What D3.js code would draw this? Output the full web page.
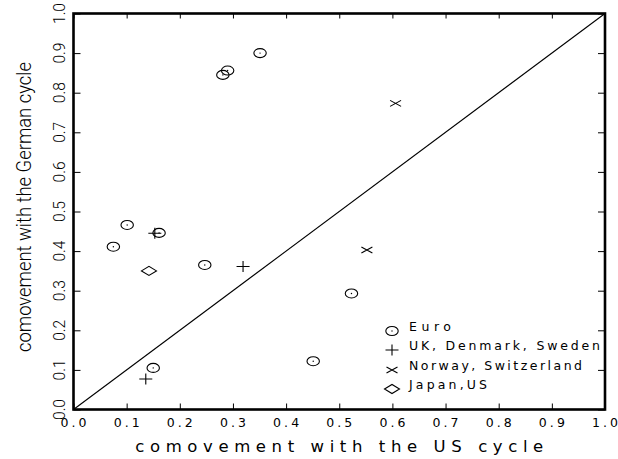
<!DOCTYPE html>
<html>
<head>
<meta charset="utf-8">
<script src="https://cdn.jsdelivr.net/npm/d3@7"></script>
<style>
  body { margin: 0; background: #fff; }
  svg { display: block; }
  .tick line { stroke: #000; stroke-width: 1; }
</style>
</head>
<body>
<script>
// comovement with US cycle (x) vs comovement with German cycle (y)
var groupNames = ["Euro", "UK, Denmark, Sweden", "Norway, Switzerland", "Japan,US"];

var euroX = [0.351, 0.290, 0.281, 0.101, 0.075, 0.161, 0.247, 0.523, 0.150, 0.451];
var euroY = [0.900, 0.856, 0.845, 0.466, 0.411, 0.446, 0.365, 0.293, 0.105, 0.122];

var ukX = [0.153, 0.319, 0.136];
var ukY = [0.445, 0.361, 0.077];

var norX = [0.606, 0.552];
var norY = [0.773, 0.403];

var japX = [0.142];
var japY = [0.350];

var tickVals = [0, 0.1, 0.2, 0.3, 0.4, 0.5, 0.6, 0.7, 0.8, 0.9, 1.0];
var tickLabels = ["0.0", "0.1", "0.2", "0.3", "0.4", "0.5", "0.6", "0.7", "0.8", "0.9", "1.0"];

var W = 618, H = 459;
var margin = {left: 73.5, top: 13.5, right: 13, bottom: 49.5};
var width = W - margin.left - margin.right;
var height = H - margin.top - margin.bottom;

var xScale = d3.scaleLinear().domain([0, 1]).range([0, width]);
var yScale = d3.scaleLinear().domain([0, 1]).range([height, 0]);

var svg = d3.select("body").append("svg").attr("width", W).attr("height", H);
var g = svg.append("g").attr("transform", "translate(" + margin.left + "," + margin.top + ")");

// inward ticks on all four sides
g.append("g").attr("transform", "translate(0," + height + ")")
    .call(d3.axisBottom(xScale).tickValues(tickVals).tickSize(-6).tickSizeOuter(0).tickFormat(""));
g.append("g")
    .call(d3.axisTop(xScale).tickValues(tickVals).tickSize(-5).tickSizeOuter(0).tickFormat(""));
g.append("g")
    .call(d3.axisLeft(yScale).tickValues(tickVals).tickSize(-7).tickSizeOuter(0).tickFormat(""));
g.append("g").attr("transform", "translate(" + width + ",0)")
    .call(d3.axisRight(yScale).tickValues(tickVals).tickSize(-7).tickSizeOuter(0).tickFormat(""));
g.selectAll(".domain").remove();

// frame
g.append("rect")
    .attr("x", 0).attr("y", 0).attr("width", width).attr("height", height)
    .attr("fill", "none").attr("stroke", "#000").attr("stroke-width", 2.6);

// x tick labels
g.selectAll(".xlab")
    .data(tickVals)
    .enter().append("text")
    .attr("class", "xlab")
    .attr("x", function (d) { return xScale(d); })
    .attr("y", height + 17)
    .attr("text-anchor", "middle")
    .attr("font-family", "DejaVu Sans, sans-serif")
    .attr("font-size", 12.5)
    .attr("textLength", 26)
    .attr("lengthAdjust", "spacing")
    .text(function (d, i) { return tickLabels[i]; });

// y tick labels (rotated, condensed)
g.selectAll(".ylab")
    .data(tickVals)
    .enter().append("text")
    .attr("class", "ylab")
    .attr("transform", function (d) { return "translate(-9," + yScale(d) + ") rotate(-90)"; })
    .attr("text-anchor", "middle")
    .attr("font-family", "Roboto, sans-serif")
    .attr("font-weight", 300)
    .attr("font-size", 17)
    .attr("textLength", 21)
    .attr("lengthAdjust", "spacingAndGlyphs")
    .text(function (d, i) { return tickLabels[i]; });

// axis titles
svg.append("text")
    .attr("x", margin.left + width / 2)
    .attr("y", 452)
    .attr("text-anchor", "middle")
    .attr("font-family", "DejaVu Sans, sans-serif")
    .attr("font-size", 16.5)
    .attr("textLength", 408)
    .attr("lengthAdjust", "spacing")
    .text("comovement with the US cycle");

svg.append("text")
    .attr("transform", "translate(31,207) rotate(-90)")
    .attr("text-anchor", "middle")
    .attr("font-family", "Roboto, sans-serif")
    .attr("font-weight", 300)
    .attr("font-size", 21)
    .attr("textLength", 290)
    .attr("lengthAdjust", "spacingAndGlyphs")
    .text("comovement with the German cycle");

// diagonal 45 degree line
var line = d3.line()
    .x(function (d) { return xScale(d); })
    .y(function (d) { return yScale(d); });
g.append("path")
    .attr("d", line([0, 1]))
    .attr("fill", "none")
    .attr("stroke", "#000")
    .attr("stroke-width", 1.1);

// marker shapes
function drawMarker(sel, shape) {
    if (shape === 0) {
        sel.append("ellipse").attr("rx", 6.2).attr("ry", 4.5)
            .attr("fill", "none").attr("stroke", "#000").attr("stroke-width", 1.1);
        sel.append("circle").attr("r", 0.7).attr("fill", "#000");
    } else if (shape === 1) {
        sel.append("path").attr("d", "M-6.5,0H6.5M0,-5.5V5.5")
            .attr("stroke", "#000").attr("stroke-width", 1.1);
    } else if (shape === 2) {
        sel.append("path").attr("d", "M-5.5,-3L5.5,3M-5.5,3L5.5,-3")
            .attr("stroke", "#000").attr("stroke-width", 1.1);
    } else {
        sel.append("path").attr("d", "M-7.5,0L0,-4.5L7.5,0L0,4.5Z")
            .attr("fill", "none").attr("stroke", "#000").attr("stroke-width", 1.1);
    }
}

var series = [[euroX, euroY], [ukX, ukY], [norX, norY], [japX, japY]];
series.forEach(function (s, k) {
    var pts = s[0].map(function (x, i) { return {x: x, y: s[1][i]}; });
    g.selectAll(".pt" + k)
        .data(pts)
        .enter().append("g")
        .attr("class", "pt" + k)
        .attr("transform", function (d) { return "translate(" + xScale(d.x) + "," + yScale(d.y) + ")"; })
        .each(function () { drawMarker(d3.select(this), k); });
});

// legend
var legendY = [331, 350, 370, 389];
var legendLen = [42, 191, 173, 78];
var legend = svg.append("g");
groupNames.forEach(function (name, k) {
    var row = legend.append("g").attr("transform", "translate(392," + legendY[k] + ")");
    drawMarker(row, k);
    row.append("text")
        .attr("x", 17)
        .attr("y", 0)
        .attr("font-family", "DejaVu Sans, sans-serif")
        .attr("font-size", 12.5)
        .attr("textLength", legendLen[k])
        .attr("lengthAdjust", "spacing")
        .text(name);
});
</script>
</body>
</html>
